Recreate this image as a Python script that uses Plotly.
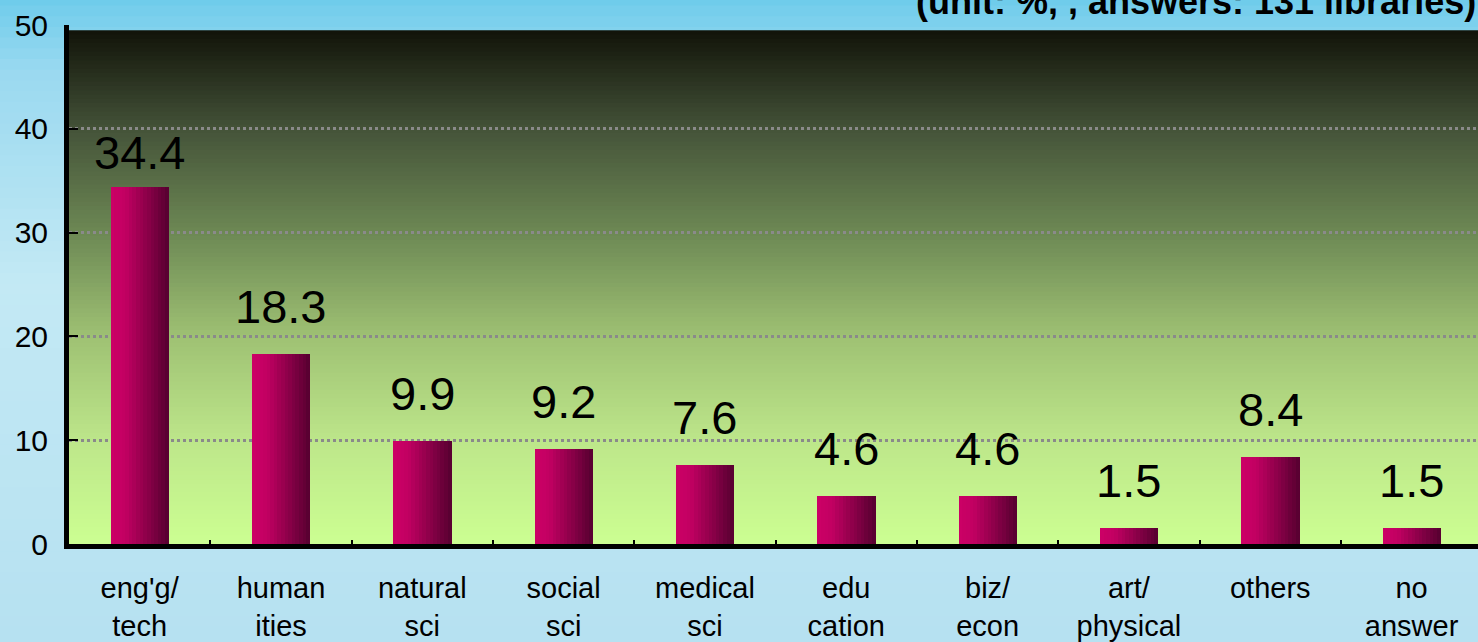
import plotly.graph_objects as go

categories = ["eng'g/<br>tech", "human<br>ities", "natural<br>sci", "social<br>sci", "medical<br>sci",
              "edu<br>cation", "biz/<br>econ", "art/<br>physical", "others", "no<br>answer"]
values = [34.4, 18.3, 9.9, 9.2, 7.6, 4.6, 4.6, 1.5, 8.4, 1.5]
value_labels = ["34.4", "18.3", "9.9", "9.2", "7.6", "4.6", "4.6", "1.5", "8.4", "1.5"]
title_text = "(unit: %, , answers: 131 libraries)"

FONT = "Arial, 'Liberation Sans', sans-serif"


def hex2rgb(h):
    h = h.lstrip('#')
    return tuple(int(h[i:i + 2], 16) for i in (0, 2, 4))


def interp_stops(stops, t):
    for (p0, c0), (p1, c1) in zip(stops[:-1], stops[1:]):
        if p0 <= t <= p1:
            f = (t - p0) / (p1 - p0) if p1 > p0 else 0
            a, b = hex2rgb(c0), hex2rgb(c1)
            return "rgb(%d,%d,%d)" % tuple(round(a[i] + (b[i] - a[i]) * f) for i in range(3))
    return stops[-1][1]


fig = go.Figure()

# Bars with horizontal gradient (thin slices)
bar_w = 0.41
n_slices = 16
slice_w = bar_w / n_slices
bar_stops = [(0.0, "#cc0066"), (0.25, "#c20062"), (1.0, "#560030")]
for k in range(n_slices):
    t = (k + 0.5) / n_slices
    fig.add_trace(go.Bar(
        x=categories, y=values,
        width=slice_w * 1.08, offset=-bar_w / 2 + k * slice_w,
        marker=dict(color=interp_stops(bar_stops, t), line=dict(width=0)),
        showlegend=False, hoverinfo="skip"))

# Value labels
for c, v, lab in zip(categories, values, value_labels):
    fig.add_annotation(x=c, y=v, text=lab, showarrow=False, yanchor="bottom",
                       yshift=(6 if v > 30 else 19),
                       font=dict(family=FONT, size=47, color="black"))

# Title (cut off at top, as in the original)
fig.add_annotation(xref="paper", yref="paper", x=1.0, y=1.046, xanchor="right", yanchor="middle",
                   text="<b>" + title_text + "</b>", showarrow=False,
                   font=dict(family=FONT, size=36, color="black"))

shapes = []
# Paper background gradient (stacked rects to avoid seams)
paper_stops = [(0.0, "#6ccbeb"), (0.12, "#9ad9f0"), (0.45, "#c3e9f4"), (1.0, "#b6e1f1")]
n_p = 60
for k in range(n_p):
    y1 = 1 - k / n_p
    shapes.append(dict(type="rect", xref="paper", yref="paper", x0=-0.1, x1=1.1,
                       y0=-98 / 519 - 0.01, y1=(y1 * 642 - 98) / 519 + 0.01,
                       fillcolor=interp_stops(paper_stops, (k + 0.5) / n_p),
                       line=dict(width=0), layer="below"))
# Plot area gradient (stacked rects)
plot_stops = [(0.0, "#111309"), (0.2, "#46553a"), (0.4, "#6e8a55"), (0.6, "#9fc274"),
              (0.8, "#bde68a"), (1.0, "#ccff92")]
n_b = 120
top = 49.5
for k in range(n_b):
    y1 = top - k * top / n_b
    shapes.append(dict(type="rect", xref="paper", yref="y", x0=0, x1=1,
                       y0=0, y1=y1,
                       fillcolor=interp_stops(plot_stops, (k + 0.5) / n_b),
                       line=dict(width=0), layer="below"))

fig.update_layout(
    width=1478, height=642,
    margin=dict(l=69, r=0, t=25, b=98),
    paper_bgcolor="#b8e3f2", plot_bgcolor="rgba(0,0,0,0)",
    barmode="overlay", bargap=0,
    shapes=shapes,
    font=dict(family=FONT, color="black"),
)
fig.update_xaxes(
    type="category", range=[-0.5, 9.47],
    showline=True, linewidth=5, linecolor="black",
    ticks="inside", tickson="boundaries", ticklen=4, tickwidth=2, tickcolor="black",
    showgrid=False, tickfont=dict(size=29, family=FONT, color="black"),
    ticklabelstandoff=14,
)
fig.update_yaxes(
    range=[0, 50], dtick=10, tick0=0,
    showline=True, linewidth=5, linecolor="black",
    ticks="inside", ticklen=9, tickwidth=2, tickcolor="black",
    showgrid=True, gridcolor="#8a8a8a", gridwidth=3, griddash="3px,3px",
    zeroline=False,
    tickfont=dict(size=30, family=FONT, color="black"),
    ticklabelstandoff=10,
)

fig.write_html("out.html", config={"displayModeBar": False},
               post_script="document.body.style.margin='0';document.body.style.overflow='hidden';")
